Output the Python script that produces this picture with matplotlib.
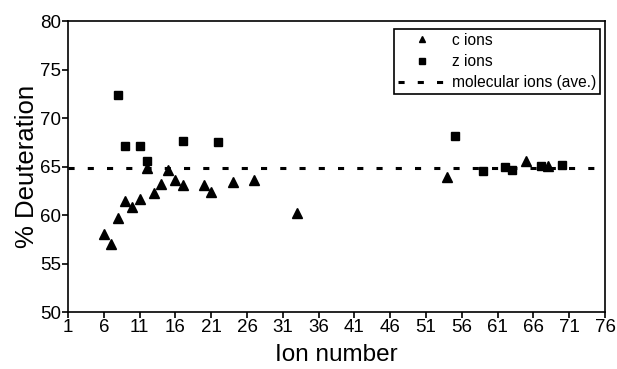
import matplotlib
matplotlib.use("Agg")
import matplotlib.pyplot as plt

c_x = [6, 7, 8, 9, 10, 11, 12, 13, 14, 15, 16, 17, 20, 21, 24, 27, 33, 54, 65, 68]
c_y = [58.0, 57.0, 59.7, 61.4, 60.8, 61.7, 64.8, 62.3, 63.2, 64.6, 63.6, 63.1,
       63.1, 62.4, 63.4, 63.6, 60.2, 63.9, 65.6, 65.1]
z_x = [8, 9, 11, 12, 17, 22, 55, 59, 62, 63, 67, 70]
z_y = [72.4, 67.1, 67.1, 65.6, 67.6, 67.5, 68.1, 64.5, 64.9, 64.6, 65.1, 65.2]
mol_ave = 64.8
xticks = list(range(1, 77, 5))
yticks = list(range(50, 81, 5))

plt.rcParams['font.family'] = ['Liberation Sans', 'DejaVu Sans']

fig = plt.figure(figsize=(6.17, 3.69), dpi=100)
ax = fig.add_axes([68/617, 1 - 312/369, (605-68)/617, (312-21)/369])

ax.plot(c_x, c_y, linestyle='none', marker='^', color='black', markersize=6.5, label='c ions')
ax.plot(z_x, z_y, linestyle='none', marker='s', color='black', markersize=5.5, label='z ions')
ax.plot([1, 76], [mol_ave, mol_ave], color='black', linewidth=2.2,
        dashes=(2, 4.3), label='molecular ions (ave.)')

ax.set_xlim(1, 76)
ax.set_ylim(50, 80)
ax.set_xticks(xticks)
ax.set_yticks(yticks)
ax.tick_params(axis='both', labelsize=13.5, direction='out', width=1.2, length=4, pad=1)
for s in ax.spines.values():
    s.set_linewidth(1.2)

ax.set_xlabel('Ion number', fontsize=17.5, labelpad=6)
ax.set_ylabel('% Deuteration', fontsize=18.5, labelpad=1)

leg = ax.legend(loc='upper right', bbox_to_anchor=(0.991, 0.973), fontsize=11.2,
                frameon=True, fancybox=False, edgecolor='black', framealpha=1,
                handlelength=3.2, markerscale=0.75, borderpad=0.25, labelspacing=0.4,
                handletextpad=0.3, borderaxespad=0)
leg.get_frame().set_linewidth(1.2)

fig.savefig('out.png', dpi=100)
